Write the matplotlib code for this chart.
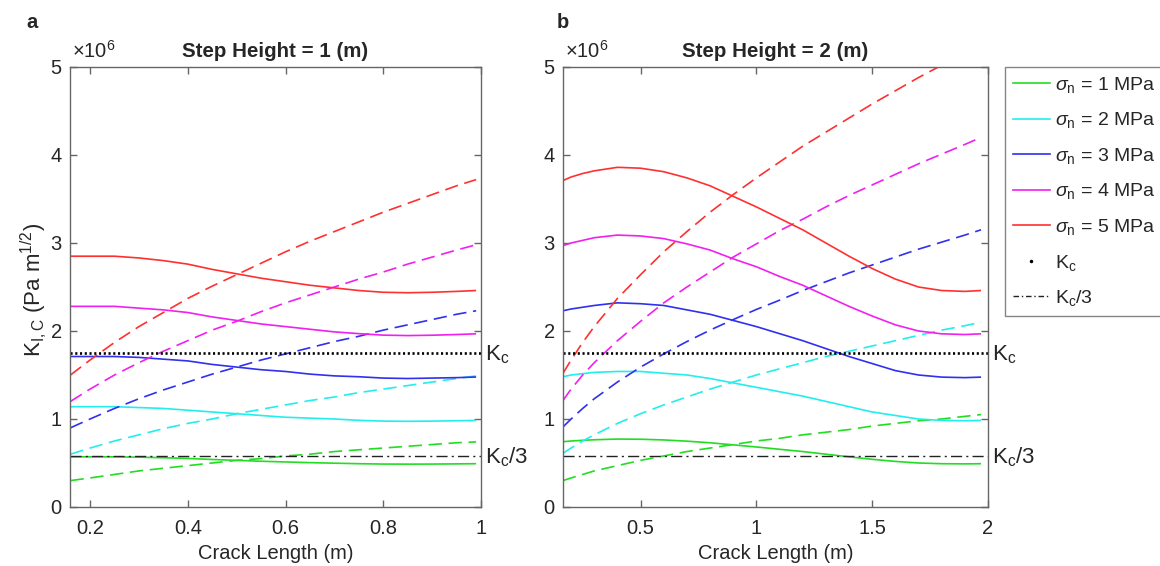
import matplotlib
matplotlib.use('Agg')
import matplotlib.pyplot as plt
from matplotlib.lines import Line2D
from matplotlib.transforms import blended_transform_factory

plt.rcParams['font.family'] = ['Liberation Sans', 'DejaVu Sans']
plt.rcParams['mathtext.fontset'] = 'custom'
plt.rcParams['mathtext.rm'] = 'Liberation Sans'
plt.rcParams['mathtext.it'] = 'Liberation Sans:italic'
plt.rcParams['mathtext.bf'] = 'Liberation Sans:bold'

# ---------------- data (values in units of 1e6 Pa m^1/2) ----------------
sigma_values = [1, 2, 3, 4, 5]
legend_labels = [r'$\sigma_{\rm n}$ = %d MPa' % s for s in sigma_values]
KC = 1.75
KC3 = 0.583

# Panel a: step height = 1 m
crack_a = [0.16, 0.2, 0.25, 0.3, 0.35, 0.4, 0.45, 0.5, 0.55, 0.6, 0.65, 0.7,
           0.75, 0.8, 0.85, 0.9, 0.95, 0.99]
solid_a_1 = [0.57, 0.57, 0.57, 0.566, 0.56, 0.552, 0.54, 0.53, 0.52, 0.512, 0.504,
             0.498, 0.492, 0.488, 0.487, 0.488, 0.49, 0.492]
solid_a_2 = [1.14, 1.14, 1.14, 1.13, 1.12, 1.10, 1.08, 1.06, 1.04, 1.02, 1.01,
             1.00, 0.985, 0.976, 0.974, 0.976, 0.98, 0.984]
solid_a_3 = [1.71, 1.71, 1.71, 1.70, 1.68, 1.66, 1.62, 1.59, 1.56, 1.54, 1.51,
             1.49, 1.48, 1.465, 1.46, 1.465, 1.47, 1.477]
solid_a_4 = [2.28, 2.28, 2.28, 2.26, 2.24, 2.21, 2.16, 2.12, 2.08, 2.05, 2.02,
             1.99, 1.97, 1.953, 1.948, 1.952, 1.96, 1.968]
solid_a_5 = [2.85, 2.85, 2.85, 2.83, 2.80, 2.76, 2.70, 2.65, 2.60, 2.56, 2.52,
             2.49, 2.46, 2.44, 2.435, 2.44, 2.45, 2.46]
dashed_a_1 = [0.30, 0.33, 0.37, 0.41, 0.44, 0.47, 0.50, 0.53, 0.55, 0.58, 0.60,
              0.63, 0.65, 0.67, 0.69, 0.71, 0.73, 0.74]
dashed_a_2 = [0.60, 0.67, 0.75, 0.82, 0.89, 0.95, 1.00, 1.06, 1.11, 1.16, 1.21,
              1.25, 1.30, 1.34, 1.38, 1.42, 1.46, 1.49]
dashed_a_3 = [0.90, 1.00, 1.12, 1.23, 1.33, 1.42, 1.51, 1.59, 1.67, 1.74, 1.81,
              1.88, 1.94, 2.01, 2.07, 2.13, 2.19, 2.23]
dashed_a_4 = [1.20, 1.34, 1.50, 1.64, 1.77, 1.89, 2.01, 2.11, 2.22, 2.32, 2.41,
              2.50, 2.59, 2.67, 2.76, 2.84, 2.92, 2.98]
dashed_a_5 = [1.50, 1.67, 1.87, 2.05, 2.21, 2.37, 2.51, 2.64, 2.77, 2.90, 3.02,
              3.13, 3.24, 3.35, 3.45, 3.55, 3.65, 3.72]

# Panel b: step height = 2 m
crack_b = [0.165, 0.2, 0.25, 0.3, 0.4, 0.5, 0.6, 0.7, 0.8, 0.9, 1.0, 1.1, 1.2,
           1.3, 1.4, 1.5, 1.6, 1.7, 1.8, 1.9, 1.97]
solid_b_1 = [0.742, 0.750, 0.758, 0.764, 0.772, 0.770, 0.762, 0.748, 0.730, 0.706,
             0.682, 0.656, 0.630, 0.600, 0.570, 0.542, 0.518, 0.500, 0.492,
             0.490, 0.492]
solid_b_2 = [1.48, 1.50, 1.515, 1.53, 1.54, 1.54, 1.52, 1.50, 1.46, 1.41, 1.36,
             1.31, 1.26, 1.20, 1.14, 1.08, 1.04, 1.00, 0.984, 0.98, 0.984]
solid_b_3 = [2.23, 2.25, 2.27, 2.29, 2.32, 2.31, 2.29, 2.24, 2.19, 2.12, 2.05,
             1.97, 1.89, 1.80, 1.71, 1.63, 1.55, 1.50, 1.476, 1.47, 1.476]
solid_b_4 = [2.97, 3.00, 3.03, 3.06, 3.09, 3.08, 3.05, 2.99, 2.92, 2.82, 2.73,
             2.62, 2.52, 2.40, 2.28, 2.17, 2.07, 2.00, 1.968, 1.96, 1.968]
solid_b_5 = [3.71, 3.75, 3.79, 3.82, 3.86, 3.85, 3.81, 3.74, 3.65, 3.53, 3.41,
             3.28, 3.15, 3.00, 2.85, 2.71, 2.59, 2.50, 2.46, 2.45, 2.46]
dashed_b_1 = [0.30, 0.33, 0.37, 0.41, 0.47, 0.53, 0.58, 0.63, 0.67, 0.71, 0.75,
              0.78, 0.82, 0.85, 0.88, 0.92, 0.95, 0.98, 1.00, 1.03, 1.05]
dashed_b_2 = [0.61, 0.67, 0.75, 0.82, 0.95, 1.06, 1.16, 1.25, 1.34, 1.42, 1.50,
              1.57, 1.64, 1.71, 1.77, 1.83, 1.89, 1.95, 2.01, 2.06, 2.10]
dashed_b_3 = [0.91, 1.00, 1.12, 1.23, 1.42, 1.59, 1.74, 1.88, 2.01, 2.13, 2.245,
              2.35, 2.46, 2.56, 2.66, 2.75, 2.84, 2.93, 3.01, 3.09, 3.15]
dashed_b_4 = [1.21, 1.34, 1.50, 1.64, 1.89, 2.11, 2.32, 2.50, 2.67, 2.84, 2.99,
              3.14, 3.27, 3.41, 3.54, 3.66, 3.78, 3.90, 4.01, 4.12, 4.20]
dashed_b_5 = [1.52, 1.67, 1.87, 2.05, 2.37, 2.64, 2.90, 3.13, 3.35, 3.55, 3.74,
              3.92, 4.10, 4.26, 4.42, 4.58, 4.73, 4.88, 5.02, 5.15, 5.25]

xticks_a = [0.2, 0.4, 0.6, 0.8, 1.0]
xticklabels_a = ['0.2', '0.4', '0.6', '0.8', '1']
xticks_b = [0.5, 1.0, 1.5, 2.0]
xticklabels_b = ['0.5', '1', '1.5', '2']
yticks = [0, 1, 2, 3, 4, 5]
yticklabels = ['0', '1', '2', '3', '4', '5']
titles = ['Step Height = 1 (m)', 'Step Height = 2 (m)']
panel_letters = ['a', 'b']

# ---------------- style ----------------
colors = ['#22dd22', '#22eeee', '#3030f0', '#f020f0', '#ff3030']
TEXT = '#262626'
SPINE = '#666666'

W, H = 1160, 566
fig = plt.figure(figsize=(W / 100, H / 100), dpi=100)


def fx(px):
    return px / W


def fy(py):
    return 1 - py / H


ax_a = fig.add_axes([fx(70), fy(507), fx(481) - fx(70), fy(67) - fy(507)])
ax_b = fig.add_axes([fx(563), fy(507), fx(988) - fx(563), fy(67) - fy(507)])

panels = [
    (ax_a, crack_a, [solid_a_1, solid_a_2, solid_a_3, solid_a_4, solid_a_5],
     [dashed_a_1, dashed_a_2, dashed_a_3, dashed_a_4, dashed_a_5],
     (0.159, 1.0), xticks_a, xticklabels_a),
    (ax_b, crack_b, [solid_b_1, solid_b_2, solid_b_3, solid_b_4, solid_b_5],
     [dashed_b_1, dashed_b_2, dashed_b_3, dashed_b_4, dashed_b_5],
     (0.165, 2.0), xticks_b, xticklabels_b),
]

for i, (ax, x, solids, dasheds, xlim, xt, xtl) in enumerate(panels):
    for c, s, d in zip(colors, solids, dasheds):
        ax.plot(x, s, color=c, lw=1.2, solid_capstyle='butt')
        ax.plot(x, d, color=c, lw=1.2, dashes=(8, 4))
    ax.plot(xlim, [KC, KC], color='black', lw=1.9, linestyle=(0, (0.8, 1.0)))
    ax.plot(xlim, [KC3, KC3], color='#222222', lw=1.0, dashes=(8, 3, 1.5, 3))
    ax.set_xlim(*xlim)
    ax.set_ylim(0, 5)
    ax.set_xticks(xt)
    ax.set_xticklabels(xtl)
    ax.set_yticks(yticks)
    ax.set_yticklabels(yticklabels)
    ax.tick_params(direction='in', length=5, width=1, colors=SPINE,
                   labelcolor=TEXT, labelsize=14.5, top=True, right=True)
    ax.tick_params(axis='x', pad=9)
    ax.tick_params(axis='y', pad=6)
    for sp in ax.spines.values():
        sp.set_color(SPINE)
        sp.set_linewidth(1.0)
    ax.set_xlabel('Crack Length (m)', fontsize=14.5, color=TEXT, labelpad=4)
    ax.set_title(titles[i], fontsize=14.8, fontweight='bold', color=TEXT, pad=7)
    ax.text(0.005, 1.012, r'$\times$10$^{6}$', transform=ax.transAxes,
            fontsize=14.5, color=TEXT, ha='left', va='bottom')
    tr = blended_transform_factory(ax.transAxes, ax.transData)
    ax.text(1.01, KC - 0.085, r'K$_{\rm c}$', transform=tr, fontsize=16,
            color=TEXT, ha='left', va='baseline', clip_on=False)
    ax.text(1.01, KC3 - 0.09, r'K$_{\rm c}$/3', transform=tr, fontsize=16,
            color=TEXT, ha='left', va='baseline', clip_on=False)

fig.text(fx(32), fy(23), panel_letters[0], fontsize=14.5, fontweight='bold',
         color=TEXT, ha='center', va='center')
fig.text(fx(563), fy(23), panel_letters[1], fontsize=14.5, fontweight='bold',
         color=TEXT, ha='center', va='center')
fig.text(fx(34), fy(290), r'K$_{\rm I,C}$ (Pa m$^{1/2}$)', fontsize=16,
         color=TEXT, rotation=90, ha='center', va='center')

handles = [Line2D([], [], color=c, lw=1.2) for c in colors]
handles.append(Line2D([], [], ls='none', marker='.', ms=3, color='black'))
handles.append(Line2D([], [], color='#222222', lw=1.0, dashes=(4, 2, 1, 2)))
labels = legend_labels + [r'K$_{\rm c}$', r'K$_{\rm c}$/3']
leg = fig.legend(handles, labels, loc='upper left',
                 bbox_to_anchor=(fx(1005), fy(67)), bbox_transform=fig.transFigure,
                 fontsize=14, frameon=True, fancybox=False, edgecolor=SPINE,
                 handlelength=1.9, handletextpad=0.28, borderpad=0.4,
                 labelspacing=0.8, borderaxespad=0)
leg.get_frame().set_linewidth(1.0)
for t in leg.get_texts():
    t.set_color(TEXT)

fig.savefig('out.png', dpi=100)
